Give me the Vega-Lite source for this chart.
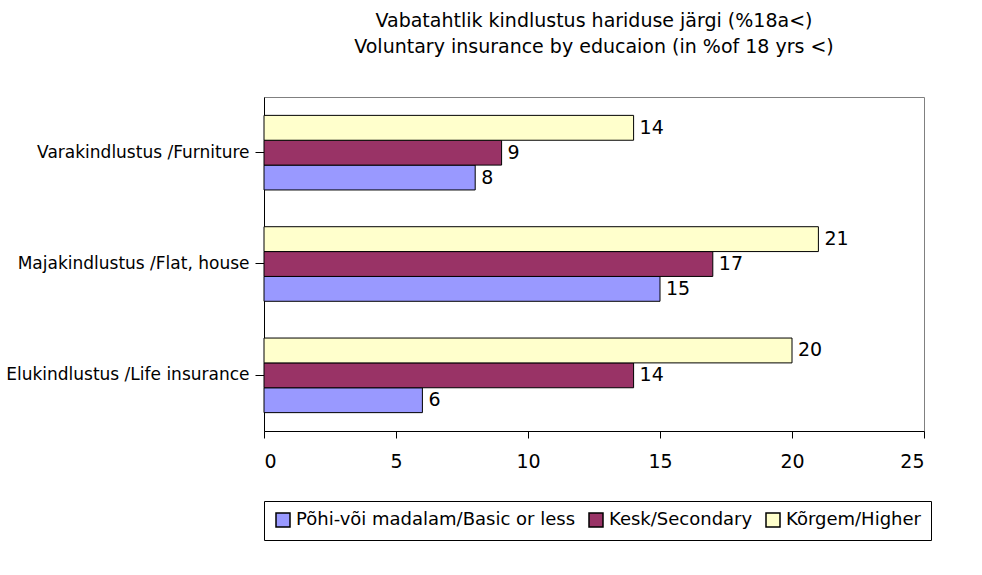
{
  "$schema": "https://vega.github.io/schema/vega-lite/v6.json",
  "width": 660,
  "height": 334,
  "padding": {"left": 5, "top": 12, "right": 20, "bottom": 5},
  "title": {
    "text": ["Vabatahtlik kindlustus hariduse järgi (%18a<)", "Voluntary insurance by educaion (in %of 18 yrs <)"],
    "anchor": "middle",
    "offset": 40,
    "font": "DejaVu Sans",
    "fontSize": 19,
    "fontWeight": "normal",
    "lineHeight": 26,
    "color": "black"
  },
  "config": {
    "view": {"stroke": "#808080", "strokeWidth": 1},
    "font": "DejaVu Sans"
  },
  "data": {
    "values": [
      {"category": "Varakindlustus /Furniture", "group": "Põhi-või madalam/Basic or less", "order": 3, "value": 8},
      {"category": "Varakindlustus /Furniture", "group": "Kesk/Secondary", "order": 2, "value": 9},
      {"category": "Varakindlustus /Furniture", "group": "Kõrgem/Higher", "order": 1, "value": 14},
      {"category": "Majakindlustus /Flat, house", "group": "Põhi-või madalam/Basic or less", "order": 3, "value": 15},
      {"category": "Majakindlustus /Flat, house", "group": "Kesk/Secondary", "order": 2, "value": 17},
      {"category": "Majakindlustus /Flat, house", "group": "Kõrgem/Higher", "order": 1, "value": 21},
      {"category": "Elukindlustus /Life insurance", "group": "Põhi-või madalam/Basic or less", "order": 3, "value": 6},
      {"category": "Elukindlustus /Life insurance", "group": "Kesk/Secondary", "order": 2, "value": 14},
      {"category": "Elukindlustus /Life insurance", "group": "Kõrgem/Higher", "order": 1, "value": 20}
    ]
  },
  "layer": [
    {
      "mark": {"type": "bar", "stroke": "black", "strokeWidth": 1},
      "encoding": {
        "y": {
          "field": "category",
          "type": "nominal",
          "sort": "descending",
          "scale": {"paddingInner": 0.33, "paddingOuter": 0.165},
          "axis": {
            "title": null,
            "domainColor": "black",
            "tickColor": "black",
            "tickSize": 9,
            "labelFont": "DejaVu Sans",
            "labelFontSize": 17,
            "labelColor": "black",
            "labelLimit": 400,
            "labelPadding": 6
          }
        },
        "yOffset": {"field": "order", "type": "ordinal"},
        "x": {
          "field": "value",
          "type": "quantitative",
          "scale": {"domain": [0, 25], "nice": false},
          "axis": {
            "title": null,
            "values": [0, 5, 10, 15, 20, 25],
            "grid": false,
            "domainColor": "black",
            "tickColor": "black",
            "tickSize": 7,
            "labelFont": "DejaVu Sans",
            "labelFontSize": 19,
            "labelColor": "black",
            "labelPadding": 14
          }
        },
        "color": {
          "field": "group",
          "type": "nominal",
          "scale": {
            "domain": ["Põhi-või madalam/Basic or less", "Kesk/Secondary", "Kõrgem/Higher"],
            "range": ["#9999FF", "#993366", "#FFFFCC"]
          },
          "legend": {
            "title": null,
            "orient": "bottom",
            "direction": "horizontal",
            "offset": 30,
            "strokeColor": "black",
            "padding": 10,
            "symbolType": "square",
            "symbolSize": 196,
            "symbolStrokeColor": "black",
            "labelFont": "DejaVu Sans",
            "labelFontSize": 18,
            "labelColor": "black",
            "labelLimit": 400
          }
        }
      }
    },
    {
      "mark": {"type": "text", "align": "left", "baseline": "middle", "dx": 6, "font": "DejaVu Sans", "fontSize": 19, "fill": "black"},
      "encoding": {
        "y": {"field": "category", "type": "nominal", "sort": "descending"},
        "yOffset": {"field": "order", "type": "ordinal"},
        "x": {"field": "value", "type": "quantitative"},
        "text": {"field": "value", "type": "quantitative"}
      }
    }
  ]
}
